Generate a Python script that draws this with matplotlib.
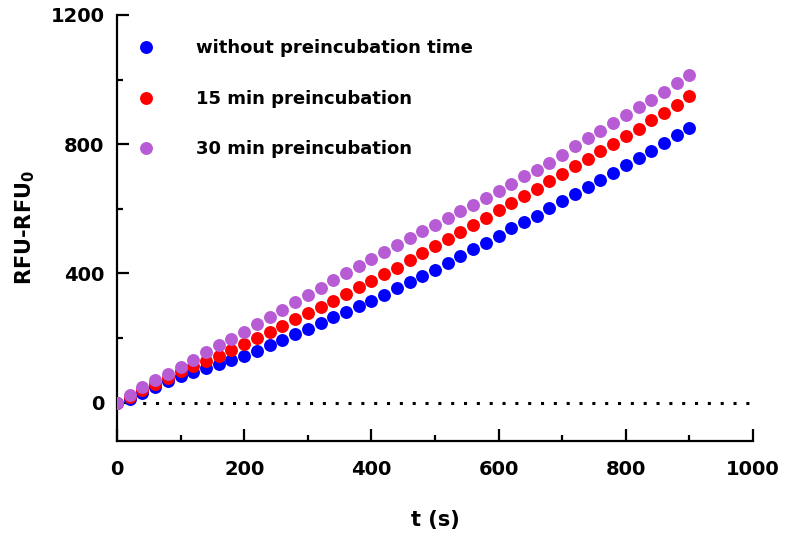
import numpy as np
import matplotlib
matplotlib.use('Agg')
import matplotlib.pyplot as plt
from matplotlib.ticker import MultipleLocator

plt.rcParams['font.family'] = ['DejaVu Sans']
plt.rcParams['font.weight'] = 'bold'

# time points (s)
t = list(range(0, 901, 20))

# RFU-RFU0
no_pre = [0, 11, 30, 49, 66, 82, 95, 107, 119, 131,
          145, 160, 178, 195, 212, 229, 245, 264, 281, 299,
          315, 334, 354, 374, 393, 412, 433, 454, 474, 495,
          516, 539, 560, 578, 601, 623, 645, 667, 688, 710,
          735, 756, 779, 804, 828, 849]
pre15 = [0, 18, 40, 56, 76, 97, 114, 128, 145, 164,
         182, 200, 217, 237, 258, 277, 297, 316, 336, 357,
         377, 399, 417, 442, 464, 485, 505, 527, 549, 572,
         595, 618, 641, 662, 686, 709, 734, 753, 778, 801,
         824, 848, 874, 896, 922, 948]
pre30 = [0, 25, 47, 69, 90, 110, 132, 156, 177, 198,
         220, 243, 265, 288, 311, 334, 356, 378, 401, 424,
         445, 467, 489, 511, 531, 551, 571, 592, 613, 632,
         655, 678, 700, 721, 743, 768, 793, 818, 842, 865,
         890, 915, 937, 963, 988, 1013]

labels = ['without preincubation time', '15 min preincubation', '30 min preincubation']
colors = ['#0000FF', '#FF0000', '#B85CD6']

fig = plt.figure(figsize=(7.89, 5.35), dpi=100)
ax = fig.add_axes([117 / 789, 1 - 440.7 / 535, (753 - 117) / 789, (440.7 - 15) / 535])

ax.axhline(0, color='black', lw=2.2, ls=(0, (1, 3.2)), zorder=1)
for y, lab, col in zip([no_pre, pre15, pre30], labels, colors):
    ax.plot(t, y, 'o', color=col, ms=9.3, mec='none', label=lab, zorder=3)

ax.set_xlim(0, 1000)
ax.set_ylim(-118, 1200)
ax.xaxis.set_major_locator(MultipleLocator(200))
ax.xaxis.set_minor_locator(MultipleLocator(100))
ax.yaxis.set_major_locator(MultipleLocator(400))
ax.yaxis.set_minor_locator(MultipleLocator(200))
for s in ['top', 'right']:
    ax.spines[s].set_visible(False)
for s in ['left', 'bottom']:
    ax.spines[s].set_linewidth(1.6)
ax.tick_params(which='major', direction='in', length=8.5, width=1.6, labelsize=14)
ax.tick_params(which='minor', direction='in', length=4.5, width=1.6)
ax.tick_params(axis='x', which='major', pad=14)
ax.tick_params(axis='y', which='major', pad=9)

ax.set_xlabel('t (s)', fontsize=15, fontweight='bold', labelpad=22)
ax.set_ylabel(r'RFU-RFU$_\mathbf{0}$', fontsize=15, fontweight='bold', labelpad=10)

ax.legend(loc='upper left', bbox_to_anchor=(0.0, 0.985), frameon=False,
          fontsize=13, handletextpad=2.15, labelspacing=1.8, borderaxespad=0.6,
          handlelength=1.2, markerscale=1.0)

fig.savefig('out.png', dpi=100)
